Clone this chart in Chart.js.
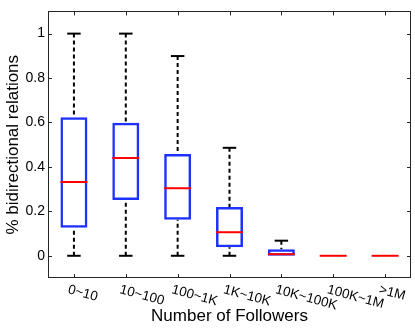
<!DOCTYPE html>
<html><head><meta charset="utf-8">
<script src="https://cdn.jsdelivr.net/npm/chart.js@4"></script>
<style>html,body{margin:0;padding:0;background:#fff}</style>
</head><body>
<canvas id="c" width="415" height="328"></canvas>
<script>
const categories = ['0~10','10~100','100~1K','1K~10K','10K~100K','100K~1M','>1M'];
const whiskerLow  = [0, 0, 0, 0, 0, 0, 0];
const q1          = [0.126, 0.251, 0.162, 0.038, 0, 0, 0];
const median      = [0.332, 0.440, 0.304, 0.106, 0.007, 0, 0];
const q3          = [0.623, 0.599, 0.458, 0.220, 0.029, 0, 0];
const whiskerHigh = [1, 1, 0.899, 0.486, 0.068, 0, 0];
const yTicks = [0, 0.2, 0.4, 0.6, 0.8, 1];

Chart.defaults.font.family = '"Liberation Sans", Arial, sans-serif';

const boxExtras = {
  id: 'boxExtras',
  beforeDatasetsDraw(chart) {
    const {ctx, scales: {y}} = chart;
    const meta = chart.getDatasetMeta(0);
    ctx.save();
    ctx.strokeStyle = '#000';
    ctx.lineWidth = 2;
    categories.forEach((c, i) => {
      const bar = meta.data[i];
      const cx = bar.x, capW = bar.width * 0.5;
      const seg = (from, to) => {
        if (from === to) return;
        const p0 = y.getPixelForValue(from), p1 = y.getPixelForValue(to);
        ctx.setLineDash([4, 3]);
        ctx.beginPath(); ctx.moveTo(cx, p1); ctx.lineTo(cx, p0); ctx.stroke();
        ctx.setLineDash([]);
        ctx.beginPath(); ctx.moveTo(cx - capW / 2, p1); ctx.lineTo(cx + capW / 2, p1); ctx.stroke();
      };
      seg(q3[i], whiskerHigh[i]);
      seg(q1[i], whiskerLow[i]);
    });
    ctx.restore();
  },
  afterDatasetsDraw(chart) {
    const {ctx, scales: {y}} = chart;
    const meta = chart.getDatasetMeta(0);
    ctx.save();
    ctx.strokeStyle = '#ff0000';
    ctx.lineWidth = 2;
    categories.forEach((c, i) => {
      const bar = meta.data[i];
      const py = y.getPixelForValue(median[i]);
      ctx.beginPath();
      ctx.moveTo(bar.x - bar.width / 2, py);
      ctx.lineTo(bar.x + bar.width / 2, py);
      ctx.stroke();
    });
    ctx.restore();
  },
  afterDraw(chart) {
    const {ctx, chartArea: a, scales: {x, y}} = chart;
    ctx.save();
    ctx.strokeStyle = '#262626';
    ctx.lineWidth = 1;
    ctx.strokeRect(Math.round(a.left) + 0.5, Math.round(a.top) + 0.5,
                   Math.round(a.right - a.left) - 1, Math.round(a.bottom - a.top) - 1);
    ctx.beginPath();
    yTicks.forEach(v => {
      const py = Math.round(y.getPixelForValue(v)) + 0.5;
      ctx.moveTo(a.left, py); ctx.lineTo(a.left + 4, py);
      ctx.moveTo(a.right, py); ctx.lineTo(a.right - 4, py);
    });
    categories.forEach((c, i) => {
      const px = Math.round(x.getPixelForValue(i)) + 0.5;
      ctx.moveTo(px, a.bottom); ctx.lineTo(px, a.bottom - 4);
      ctx.moveTo(px, a.top); ctx.lineTo(px, a.top + 4);
    });
    ctx.stroke();
    ctx.fillStyle = '#000';
    ctx.font = '13.5px "Liberation Sans", Arial, sans-serif';
    ctx.textAlign = 'left';
    ctx.textBaseline = 'top';
    categories.forEach((c, i) => {
      const px = x.getPixelForValue(i);
      ctx.save();
      ctx.translate(px - 4, a.bottom + 5);
      ctx.rotate(15 * Math.PI / 180);
      ctx.fillText(c, 0, 0);
      ctx.restore();
    });
    ctx.restore();
  }
};

new Chart(document.getElementById('c'), {
  type: 'bar',
  data: {
    labels: categories,
    datasets: [{
      data: categories.map((c, i) => [q1[i], q3[i]]),
      backgroundColor: 'rgba(255,255,255,0)',
      borderColor: 'rgb(30,50,255)',
      borderWidth: 2.5,
      borderSkipped: false,
      barPercentage: 0.52,
      categoryPercentage: 1
    }]
  },
  options: {
    responsive: false,
    animation: false,
    layout: {padding: {top: 3, right: 4, left: 0, bottom: 0}},
    plugins: {legend: {display: false}, tooltip: {enabled: false}},
    scales: {
      x: {
        offset: true,
        grid: {display: false, drawTicks: false},
        border: {display: false},
        ticks: {display: false},
        title: {display: true, text: 'Number of Followers', color: '#000',
                font: {size: 17}, padding: {top: 0, bottom: 1}},
        afterFit(s) { s.height = 50; }
      },
      y: {
        min: -0.1, max: 1.1,
        grid: {display: false, drawTicks: false},
        border: {display: false},
        afterBuildTicks(s) { s.ticks = yTicks.map(v => ({value: v})); },
        ticks: {padding: 3, color: '#000', font: {size: 14}, callback: v => String(v)},
        title: {display: true, text: '% bidirectional relations', color: '#000',
                font: {size: 17}, padding: {top: 3, bottom: 0}},
        afterFit(s) { s.width = 48; }
      }
    }
  },
  plugins: [boxExtras]
});
</script>
</body></html>
